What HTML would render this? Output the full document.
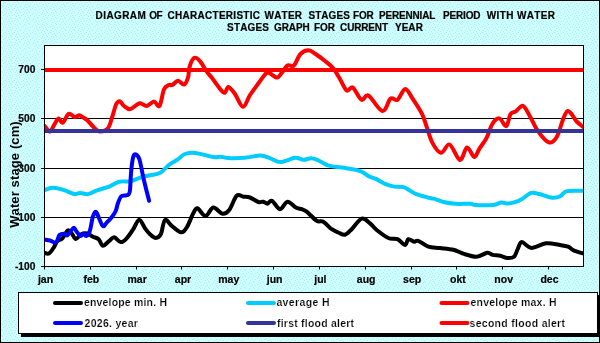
<!DOCTYPE html>
<html><head><meta charset="utf-8"><style>
html,body{margin:0;padding:0;width:600px;height:343px;overflow:hidden;background:#c9fcfe}
svg{display:block;will-change:transform}
text{font-family:"Liberation Sans", sans-serif;fill:#000;font-kerning:none;font-feature-settings:"kern" 0}
</style></head><body>
<svg width="600" height="343" viewBox="0 0 600 343">
<defs><pattern id="dots" x="0" y="0" width="9" height="6" patternUnits="userSpaceOnUse"><rect width="9" height="6" fill="#ccffff"/><rect x="2" y="0" width="1" height="1" fill="#bae9f2"/><rect x="6" y="0" width="1" height="1" fill="#bae9f2"/><rect x="8" y="1" width="1" height="1" fill="#bae9f2"/><rect x="5" y="2" width="1" height="1" fill="#bae9f2"/><rect x="0" y="3" width="1" height="1" fill="#bae9f2"/><rect x="3" y="3" width="1" height="1" fill="#bae9f2"/><rect x="7" y="4" width="1" height="1" fill="#bae9f2"/><rect x="1" y="5" width="1" height="1" fill="#bae9f2"/></pattern></defs>
<rect x="0" y="0" width="600" height="343" fill="url(#dots)" shape-rendering="crispEdges"/>
<rect x="0.5" y="0.5" width="599" height="342" fill="none" stroke="#000" stroke-width="1"/>
<text transform="translate(95.60,19) scale(0.95,1)" font-size="10.5" font-weight="bold" textLength="52.84" lengthAdjust="spacing" stroke="#000" stroke-width="0.2">DIAGRAM</text>
<text transform="translate(149.20,19) scale(0.95,1)" font-size="10.5" font-weight="bold" textLength="14.00" lengthAdjust="spacing" stroke="#000" stroke-width="0.2">OF</text>
<text transform="translate(167.50,19) scale(0.95,1)" font-size="10.5" font-weight="bold" textLength="97.37" lengthAdjust="spacing" stroke="#000" stroke-width="0.2">CHARACTERISTIC</text>
<text transform="translate(264.50,19) scale(0.95,1)" font-size="10.5" font-weight="bold" textLength="39.47" lengthAdjust="spacing" stroke="#000" stroke-width="0.2">WATER</text>
<text transform="translate(308.50,19) scale(0.95,1)" font-size="10.5" font-weight="bold" textLength="43.47" lengthAdjust="spacing" stroke="#000" stroke-width="0.2">STAGES</text>
<text transform="translate(352.90,19) scale(0.95,1)" font-size="10.5" font-weight="bold" textLength="22.00" lengthAdjust="spacing" stroke="#000" stroke-width="0.2">FOR</text>
<text transform="translate(379.00,19) scale(0.95,1)" font-size="10.5" font-weight="bold" textLength="59.37" lengthAdjust="spacing" stroke="#000" stroke-width="0.2">PERENNIAL</text>
<text transform="translate(443.00,19) scale(0.95,1)" font-size="10.5" font-weight="bold" textLength="39.47" lengthAdjust="spacing" stroke="#000" stroke-width="0.2">PERIOD</text>
<text transform="translate(486.80,19) scale(0.95,1)" font-size="10.5" font-weight="bold" textLength="28.00" lengthAdjust="spacing" stroke="#000" stroke-width="0.2">WITH</text>
<text transform="translate(517.10,19) scale(0.95,1)" font-size="10.5" font-weight="bold" textLength="39.89" lengthAdjust="spacing" stroke="#000" stroke-width="0.2">WATER</text>
<text transform="translate(227.10,31) scale(0.95,1)" font-size="10.5" font-weight="bold" textLength="44.00" lengthAdjust="spacing" stroke="#000" stroke-width="0.2">STAGES</text>
<text transform="translate(274.00,31) scale(0.95,1)" font-size="10.5" font-weight="bold" textLength="37.68" lengthAdjust="spacing" stroke="#000" stroke-width="0.2">GRAPH</text>
<text transform="translate(314.00,31) scale(0.95,1)" font-size="10.5" font-weight="bold" textLength="22.00" lengthAdjust="spacing" stroke="#000" stroke-width="0.2">FOR</text>
<text transform="translate(340.10,31) scale(0.95,1)" font-size="10.5" font-weight="bold" textLength="50.42" lengthAdjust="spacing" stroke="#000" stroke-width="0.2">CURRENT</text>
<text transform="translate(394.90,31) scale(0.95,1)" font-size="10.5" font-weight="bold" textLength="29.47" lengthAdjust="spacing" stroke="#000" stroke-width="0.2">YEAR</text>
<rect x="44.5" y="45.5" width="539.0" height="221.0" fill="#fff"/>
<line x1="44.5" y1="69.5" x2="583.5" y2="69.5" stroke="#000" stroke-width="1"/>
<line x1="44.5" y1="118.5" x2="583.5" y2="118.5" stroke="#000" stroke-width="1"/>
<line x1="44.5" y1="168.5" x2="583.5" y2="168.5" stroke="#000" stroke-width="1"/>
<line x1="44.5" y1="217.5" x2="583.5" y2="217.5" stroke="#000" stroke-width="1"/>
<line x1="41" y1="69.5" x2="44.5" y2="69.5" stroke="#000" stroke-width="1"/>
<text x="35.3" y="72.7" text-anchor="end" font-size="10.2" font-weight="bold" stroke="#000" stroke-width="0.2">700</text>
<line x1="41" y1="118.5" x2="44.5" y2="118.5" stroke="#000" stroke-width="1"/>
<text x="35.3" y="121.7" text-anchor="end" font-size="10.2" font-weight="bold" stroke="#000" stroke-width="0.2">500</text>
<line x1="41" y1="168.5" x2="44.5" y2="168.5" stroke="#000" stroke-width="1"/>
<text x="35.3" y="171.7" text-anchor="end" font-size="10.2" font-weight="bold" stroke="#000" stroke-width="0.2">300</text>
<line x1="41" y1="217.5" x2="44.5" y2="217.5" stroke="#000" stroke-width="1"/>
<text x="35.3" y="220.7" text-anchor="end" font-size="10.2" font-weight="bold" stroke="#000" stroke-width="0.2">100</text>
<line x1="41" y1="266.5" x2="44.5" y2="266.5" stroke="#000" stroke-width="1"/>
<text x="35.3" y="269.7" text-anchor="end" font-size="10.2" font-weight="bold" stroke="#000" stroke-width="0.2">-100</text>
<line x1="44.5" y1="266.5" x2="44.5" y2="269.5" stroke="#000" stroke-width="1"/>
<text x="45.5" y="283.3" text-anchor="middle" font-size="10.5" font-weight="bold" stroke="#000" stroke-width="0.2">jan</text>
<line x1="90.5" y1="266.5" x2="90.5" y2="269.5" stroke="#000" stroke-width="1"/>
<text x="91.3" y="283.3" text-anchor="middle" font-size="10.5" font-weight="bold" stroke="#000" stroke-width="0.2">feb</text>
<line x1="136.5" y1="266.5" x2="136.5" y2="269.5" stroke="#000" stroke-width="1"/>
<text x="137.1" y="283.3" text-anchor="middle" font-size="10.5" font-weight="bold" stroke="#000" stroke-width="0.2">mar</text>
<line x1="181.5" y1="266.5" x2="181.5" y2="269.5" stroke="#000" stroke-width="1"/>
<text x="183.0" y="283.3" text-anchor="middle" font-size="10.5" font-weight="bold" stroke="#000" stroke-width="0.2">apr</text>
<line x1="227.5" y1="266.5" x2="227.5" y2="269.5" stroke="#000" stroke-width="1"/>
<text x="228.8" y="283.3" text-anchor="middle" font-size="10.5" font-weight="bold" stroke="#000" stroke-width="0.2">may</text>
<line x1="273.5" y1="266.5" x2="273.5" y2="269.5" stroke="#000" stroke-width="1"/>
<text x="274.6" y="283.3" text-anchor="middle" font-size="10.5" font-weight="bold" stroke="#000" stroke-width="0.2">jun</text>
<line x1="319.5" y1="266.5" x2="319.5" y2="269.5" stroke="#000" stroke-width="1"/>
<text x="320.4" y="283.3" text-anchor="middle" font-size="10.5" font-weight="bold" stroke="#000" stroke-width="0.2">jul</text>
<line x1="365.5" y1="266.5" x2="365.5" y2="269.5" stroke="#000" stroke-width="1"/>
<text x="366.2" y="283.3" text-anchor="middle" font-size="10.5" font-weight="bold" stroke="#000" stroke-width="0.2">aug</text>
<line x1="411.5" y1="266.5" x2="411.5" y2="269.5" stroke="#000" stroke-width="1"/>
<text x="412.1" y="283.3" text-anchor="middle" font-size="10.5" font-weight="bold" stroke="#000" stroke-width="0.2">sep</text>
<line x1="456.5" y1="266.5" x2="456.5" y2="269.5" stroke="#000" stroke-width="1"/>
<text x="457.9" y="283.3" text-anchor="middle" font-size="10.5" font-weight="bold" stroke="#000" stroke-width="0.2">okt</text>
<line x1="502.5" y1="266.5" x2="502.5" y2="269.5" stroke="#000" stroke-width="1"/>
<text x="503.7" y="283.3" text-anchor="middle" font-size="10.5" font-weight="bold" stroke="#000" stroke-width="0.2">nov</text>
<line x1="548.5" y1="266.5" x2="548.5" y2="269.5" stroke="#000" stroke-width="1"/>
<text x="549.5" y="283.3" text-anchor="middle" font-size="10.5" font-weight="bold" stroke="#000" stroke-width="0.2">dec</text>
<clipPath id="pc"><rect x="44" y="45" width="540" height="222"/></clipPath>
<g clip-path="url(#pc)" fill="none" stroke-width="4" stroke-linejoin="round" stroke-linecap="round">
<path d="M44.0,190.3 C45.4,189.9 49.5,188.0 52.2,187.8 C54.9,187.6 57.8,188.4 60.3,189.0 C62.8,189.6 65.0,190.5 67.3,191.3 C69.6,192.2 72.2,193.8 74.3,194.1 C76.4,194.4 77.8,192.9 80.1,192.9 C82.4,192.9 85.4,194.6 88.3,194.1 C91.2,193.6 94.1,191.3 97.6,190.1 C101.1,188.8 105.7,188.0 109.3,186.6 C112.9,185.2 115.7,182.6 119.2,181.7 C122.7,180.8 126.8,182.0 130.4,181.3 C134.0,180.6 137.3,178.5 140.6,177.5 C143.9,176.5 146.7,176.1 150.0,175.3 C153.3,174.5 157.0,174.6 160.2,172.8 C163.4,171.1 166.1,167.0 169.0,164.8 C171.9,162.6 175.1,161.2 177.7,159.5 C180.2,157.8 181.9,155.4 184.3,154.3 C186.8,153.2 189.6,152.7 192.4,152.7 C195.2,152.7 197.7,153.4 201.2,154.1 C204.7,154.8 210.2,156.7 213.4,157.1 C216.6,157.5 218.1,156.5 220.4,156.7 C222.7,156.8 223.4,157.8 227.4,158.0 C231.4,158.2 239.2,158.2 244.7,157.8 C250.2,157.4 256.0,155.5 260.3,155.6 C264.6,155.7 267.0,157.2 270.4,158.3 C273.8,159.4 276.4,162.1 280.5,162.0 C284.6,161.9 291.3,158.2 295.1,157.8 C298.9,157.4 300.8,159.7 303.4,159.8 C306.0,159.9 308.4,158.3 310.7,158.3 C313.0,158.3 314.1,158.6 317.2,159.8 C320.2,161.0 325.2,164.5 329.0,165.7 C332.8,166.9 337.1,166.8 340.0,167.2 C342.9,167.6 343.1,167.5 346.5,168.2 C349.9,168.8 356.6,169.8 360.3,171.1 C364.0,172.4 365.9,174.8 368.5,176.1 C371.1,177.4 373.1,177.6 375.9,178.9 C378.6,180.2 381.9,182.5 385.0,183.8 C388.1,185.1 391.1,186.1 394.2,186.6 C397.3,187.1 400.9,186.5 403.4,187.1 C405.8,187.7 406.8,188.7 408.9,189.9 C411.0,191.1 412.8,192.8 416.2,194.1 C419.6,195.4 425.7,196.9 429.0,197.8 C432.3,198.7 433.6,198.6 436.0,199.3 C438.4,200.0 440.2,201.2 443.5,202.0 C446.8,202.8 451.0,203.5 455.5,203.8 C460.0,204.1 467.2,203.6 470.5,203.8 C473.8,204.0 471.2,204.8 475.0,205.0 C478.8,205.2 488.6,205.4 493.0,205.0 C497.4,204.6 498.9,202.7 501.2,202.4 C503.4,202.2 504.4,203.5 506.5,203.5 C508.6,203.5 511.5,203.1 514.0,202.4 C516.5,201.7 518.9,200.8 521.7,199.2 C524.6,197.6 528.2,193.8 531.1,192.9 C534.0,192.0 535.7,193.2 539.2,194.0 C542.7,194.8 548.8,197.3 552.3,197.7 C555.8,198.1 557.9,197.3 560.3,196.2 C562.7,195.1 563.1,192.0 566.9,191.1 C570.7,190.2 580.2,190.9 582.9,190.8" stroke="#00ccff"/>
<path d="M44.0,252.6 C44.8,252.8 47.3,254.3 48.9,253.5 C50.5,252.7 52.3,249.7 53.7,247.6 C55.1,245.5 55.8,242.8 57.2,241.2 C58.7,239.6 60.6,240.1 62.4,238.3 C64.2,236.5 66.2,231.3 67.8,230.5 C69.4,229.7 70.5,232.1 71.8,233.5 C73.1,234.9 74.2,238.9 75.8,239.0 C77.4,239.1 79.7,234.9 81.6,234.0 C83.5,233.1 85.4,233.1 87.3,233.5 C89.2,233.9 91.1,235.8 93.0,236.7 C94.9,237.6 97.1,237.7 98.7,239.2 C100.3,240.7 101.0,245.4 102.8,245.7 C104.6,246.0 107.4,242.2 109.3,240.8 C111.2,239.4 112.3,237.0 114.2,237.2 C116.1,237.4 118.6,241.9 120.7,242.1 C122.8,242.3 124.6,240.5 126.7,238.3 C128.8,236.2 131.2,232.3 133.3,229.2 C135.4,226.1 137.2,219.8 139.2,219.7 C141.1,219.5 143.2,225.9 145.0,228.3 C146.8,230.7 148.2,232.6 150.0,234.2 C151.8,235.8 154.0,238.0 155.8,238.0 C157.6,238.0 159.3,237.2 160.8,234.2 C162.3,231.2 163.2,221.4 165.0,220.0 C166.8,218.6 169.1,223.8 171.7,225.8 C174.3,227.9 178.3,232.0 180.8,232.3 C183.3,232.6 184.6,230.7 186.7,227.5 C188.8,224.3 191.5,216.5 193.3,213.3 C195.1,210.1 195.5,207.9 197.5,208.3 C199.5,208.8 202.9,216.1 205.5,216.0 C208.1,215.9 210.5,207.9 213.3,207.5 C216.1,207.1 219.8,213.3 222.5,213.7 C225.2,214.1 226.8,213.0 229.2,210.0 C231.6,207.0 234.3,198.0 236.7,195.8 C239.0,193.6 241.1,196.4 243.3,196.7 C245.5,197.0 247.5,196.6 250.0,197.5 C252.5,198.4 256.1,201.3 258.3,202.0 C260.5,202.7 261.8,201.4 263.3,201.7 C264.8,202.0 266.1,203.8 267.5,203.7 C268.9,203.5 269.9,199.9 272.0,200.8 C274.1,201.7 277.4,209.0 280.0,209.2 C282.6,209.3 284.9,202.0 287.5,201.7 C290.1,201.4 293.4,206.2 295.8,207.5 C298.2,208.8 299.9,208.5 301.7,209.2 C303.5,209.9 304.2,209.8 306.7,211.7 C309.2,213.6 313.9,219.1 316.7,220.8 C319.5,222.5 320.8,220.3 323.3,221.7 C325.8,223.1 329.2,227.4 331.7,229.2 C334.2,231.0 336.1,231.6 338.3,232.5 C340.5,233.4 342.8,235.2 345.0,234.7 C347.2,234.1 348.9,231.9 351.7,229.2 C354.5,226.5 358.6,219.7 361.7,218.7 C364.8,217.7 367.5,221.4 370.0,223.3 C372.5,225.2 373.6,227.6 376.7,230.0 C379.8,232.4 384.8,236.5 388.3,238.0 C391.8,239.5 394.7,238.0 397.5,239.2 C400.3,240.4 403.2,245.0 405.0,245.0 C406.8,245.0 406.8,239.8 408.3,239.2 C409.8,238.6 412.5,241.4 414.2,241.7 C415.9,242.0 415.9,240.0 418.3,240.8 C420.7,241.6 424.7,245.5 428.3,246.7 C431.9,247.9 435.8,247.5 440.0,248.0 C444.2,248.5 449.4,248.8 453.3,249.7 C457.2,250.6 459.4,252.5 463.3,253.7 C467.2,254.9 472.7,256.9 476.7,256.7 C480.7,256.5 484.6,253.0 487.3,252.7 C490.0,252.4 490.7,254.4 492.8,254.9 C494.9,255.4 497.8,255.3 500.2,255.8 C502.6,256.3 505.2,257.9 507.5,258.0 C509.8,258.1 512.3,258.1 514.0,256.7 C515.7,255.3 516.3,251.8 517.6,249.4 C518.9,247.0 519.5,242.2 521.8,242.0 C524.1,241.8 527.4,247.7 531.4,247.9 C535.4,248.1 541.4,243.8 546.0,243.3 C550.6,242.8 555.2,244.2 558.9,244.8 C562.6,245.4 565.5,245.7 568.0,246.6 C570.5,247.5 571.1,249.2 573.6,250.3 C576.1,251.4 581.3,252.9 582.8,253.4" stroke="#000"/>
<path d="M44.0,125.7 C44.2,125.8 44.0,125.5 45.0,126.5 C46.0,127.5 48.5,131.9 50.0,131.6 C51.5,131.3 52.9,126.8 54.3,124.6 C55.7,122.4 57.1,118.8 58.5,118.5 C59.9,118.2 61.0,123.5 62.7,122.7 C64.4,121.9 66.7,114.8 68.7,113.9 C70.7,113.0 73.0,116.9 74.8,117.1 C76.6,117.3 77.9,115.1 79.4,115.3 C80.9,115.5 82.6,117.1 84.0,118.0 C85.4,118.9 85.9,118.8 87.7,120.6 C89.5,122.4 93.0,126.8 95.0,128.6 C97.0,130.4 97.8,131.6 100.0,131.5 C102.2,131.4 105.9,130.8 108.0,128.2 C110.1,125.6 111.2,119.9 112.5,116.0 C113.8,112.1 114.8,107.1 116.0,104.6 C117.2,102.1 118.5,101.0 119.8,101.2 C121.1,101.4 122.2,104.7 124.0,106.0 C125.8,107.3 127.7,109.5 130.3,109.1 C132.9,108.6 136.9,103.8 139.6,103.3 C142.3,102.8 144.2,106.3 146.6,106.0 C149.0,105.7 151.8,101.6 154.0,101.6 C156.2,101.6 157.8,108.0 159.5,106.0 C161.2,104.0 162.4,92.8 164.0,89.3 C165.6,85.8 167.4,85.7 168.8,85.0 C170.2,84.3 170.8,85.7 172.3,85.0 C173.8,84.3 176.1,80.8 178.0,80.7 C179.9,80.6 182.3,85.1 184.0,84.6 C185.7,84.1 187.0,80.7 188.0,77.6 C189.0,74.5 188.7,69.3 189.8,66.0 C190.9,62.7 192.7,58.6 194.4,57.8 C196.1,57.0 198.3,59.2 200.2,61.3 C202.1,63.4 204.1,67.9 206.0,70.6 C207.9,73.3 209.6,74.9 211.7,77.6 C213.8,80.3 216.5,84.5 218.6,87.0 C220.7,89.5 222.9,92.8 224.5,92.8 C226.1,92.8 226.7,86.8 228.4,87.0 C230.2,87.2 232.6,90.7 235.0,94.0 C237.4,97.3 240.5,106.6 243.0,106.8 C245.5,107.0 247.4,98.9 250.0,95.0 C252.6,91.1 255.6,87.2 258.3,83.5 C261.0,79.8 264.4,74.7 266.4,73.0 C268.3,71.3 268.2,72.6 270.0,73.4 C271.8,74.2 275.1,77.7 277.0,77.6 C278.9,77.5 279.9,75.0 281.6,73.0 C283.3,71.0 285.7,66.7 287.4,65.5 C289.1,64.3 290.8,66.2 292.0,66.0 C293.2,65.8 293.3,66.5 294.7,64.5 C296.1,62.5 298.2,56.4 300.5,54.0 C302.8,51.6 306.0,50.3 308.5,50.3 C311.0,50.3 312.9,52.2 315.6,54.0 C318.4,55.8 322.1,58.7 325.0,61.0 C327.9,63.3 330.7,65.3 333.0,68.0 C335.3,70.7 336.7,73.5 339.0,77.3 C341.3,81.0 344.3,88.8 346.6,90.5 C348.9,92.2 350.2,86.0 352.7,87.5 C355.2,89.0 358.9,98.5 361.5,99.8 C364.1,101.1 365.0,93.6 368.5,95.5 C372.0,97.4 378.7,110.5 382.4,111.0 C386.1,111.5 388.0,100.5 390.5,98.6 C393.0,96.7 395.1,101.4 397.5,99.8 C399.9,98.2 402.7,89.1 405.2,88.9 C407.7,88.7 409.8,94.4 412.6,98.6 C415.4,102.8 419.7,109.1 422.0,113.8 C424.3,118.5 424.9,121.8 426.6,126.6 C428.3,131.4 430.0,138.5 432.4,142.9 C434.8,147.3 438.1,152.5 441.0,152.8 C443.9,153.1 446.5,143.3 449.6,144.5 C452.8,145.7 457.0,159.5 459.9,160.0 C462.8,160.5 464.6,147.9 467.0,147.4 C469.4,146.9 472.1,156.8 474.2,157.0 C476.3,157.2 477.5,151.5 479.6,148.3 C481.7,145.1 484.5,141.9 486.6,137.8 C488.7,133.7 490.3,127.0 492.4,123.8 C494.5,120.6 497.1,118.0 499.4,118.4 C501.7,118.8 504.3,126.9 506.2,126.2 C508.1,125.5 508.9,116.6 510.5,114.1 C512.1,111.6 513.7,112.8 515.8,111.4 C517.9,110.0 520.7,105.1 523.0,105.8 C525.3,106.5 527.0,111.2 529.5,115.4 C532.0,119.6 534.6,126.4 537.8,130.9 C541.0,135.4 545.6,141.4 548.7,142.4 C551.8,143.4 554.2,141.0 556.6,137.2 C559.0,133.4 561.2,123.8 563.0,119.4 C564.8,115.0 565.9,111.7 567.5,111.0 C569.1,110.3 570.9,113.5 572.4,115.2 C573.9,117.0 574.8,119.5 576.6,121.5 C578.5,123.5 582.4,126.3 583.5,127.3" stroke="#ff0000"/>
<path d="M44.0,239.5 C45.0,239.7 48.0,240.0 50.0,240.5 C52.0,241.0 54.4,243.3 56.0,242.4 C57.6,241.5 58.1,236.4 59.5,235.0 C60.9,233.6 62.7,233.7 64.1,233.7 C65.4,233.7 66.0,236.1 67.6,235.2 C69.1,234.2 71.9,228.7 73.4,228.0 C74.9,227.3 75.2,230.0 76.4,231.3 C77.6,232.6 79.3,235.6 80.5,236.0 C81.7,236.4 82.4,233.8 83.4,233.8 C84.4,233.8 85.2,236.5 86.3,236.0 C87.4,235.5 88.8,234.0 89.8,231.0 C90.8,228.0 92.0,220.4 92.5,218.0 C93.0,215.6 92.4,217.3 93.0,216.3 C93.6,215.3 94.6,210.6 96.2,212.2 C97.8,213.8 100.8,224.1 102.6,225.8 C104.4,227.5 105.5,223.5 107.0,222.2 C108.5,220.9 109.8,219.7 111.3,217.8 C112.8,215.9 114.6,213.5 115.7,211.0 C116.8,208.5 117.1,205.4 118.0,203.0 C118.9,200.6 119.8,197.8 121.0,196.5 C122.2,195.2 124.2,195.8 125.5,195.5 C126.8,195.2 127.8,195.4 128.5,194.5 C129.2,193.6 129.6,193.8 130.0,190.0 C130.4,186.2 130.6,177.5 131.1,172.0 C131.6,166.5 132.4,159.9 133.2,157.0 C134.0,154.1 134.9,154.1 136.0,154.5 C137.1,154.9 138.2,155.2 139.5,159.5 C140.8,163.8 142.3,173.1 143.9,180.0 C145.5,186.9 148.2,197.3 149.1,200.8" stroke="#0000ff"/>
</g>
<line x1="44.5" y1="131" x2="583.5" y2="131" stroke="#333399" stroke-width="4"/>
<line x1="44.5" y1="70" x2="583.5" y2="70" stroke="#ff0000" stroke-width="4"/>
<rect x="44.5" y="45.5" width="539.0" height="221.0" fill="none" stroke="#000" stroke-width="1"/>
<text transform="translate(19.4,227.8) rotate(-90)" font-size="13" font-weight="bold" textLength="106.5" lengthAdjust="spacing">Water stage (cm)</text>
<rect x="21" y="295" width="580" height="42" fill="#000"/>
<rect x="18.5" y="292.5" width="579" height="41" fill="#fff" stroke="#000" stroke-width="1"/>
<line x1="55" y1="303" x2="81" y2="303" stroke="#000" stroke-width="4" stroke-linecap="round"/>
<text transform="translate(83.90,306.2) scale(1.0,1)" font-size="10.5" font-weight="bold" textLength="83.10" lengthAdjust="spacing" stroke="#fff" stroke-width="0.18" xml:space="preserve">envelope min. H</text>
<line x1="55" y1="323" x2="81" y2="323" stroke="#0000ff" stroke-width="4" stroke-linecap="round"/>
<text transform="translate(84.50,326.5) scale(1.0,1)" font-size="10.5" font-weight="bold" textLength="53.40" lengthAdjust="spacing" stroke="#fff" stroke-width="0.18" xml:space="preserve">2026. year</text>
<line x1="248" y1="303" x2="274" y2="303" stroke="#00ccff" stroke-width="4" stroke-linecap="round"/>
<text transform="translate(276.40,306.2) scale(1.0,1)" font-size="10.5" font-weight="bold" textLength="53.10" lengthAdjust="spacing" stroke="#fff" stroke-width="0.18" xml:space="preserve">average H</text>
<line x1="248" y1="323" x2="274" y2="323" stroke="#333399" stroke-width="4" stroke-linecap="round"/>
<text transform="translate(277.00,326.5) scale(1.0,1)" font-size="10.5" font-weight="bold" textLength="77.00" lengthAdjust="spacing" stroke="#fff" stroke-width="0.18" xml:space="preserve">first flood alert</text>
<line x1="441.5" y1="303" x2="467.5" y2="303" stroke="#ff0000" stroke-width="4" stroke-linecap="round"/>
<text transform="translate(470.50,306.2) scale(1.0,1)" font-size="10.5" font-weight="bold" textLength="86.00" lengthAdjust="spacing" stroke="#fff" stroke-width="0.18" xml:space="preserve">envelope max. H</text>
<line x1="441.5" y1="323" x2="467.5" y2="323" stroke="#ff0000" stroke-width="4" stroke-linecap="round"/>
<text transform="translate(469.50,326.5) scale(1.0,1)" font-size="10.5" font-weight="bold" textLength="95.50" lengthAdjust="spacing" stroke="#fff" stroke-width="0.18" xml:space="preserve">second flood alert</text>
</svg>
</body></html>
